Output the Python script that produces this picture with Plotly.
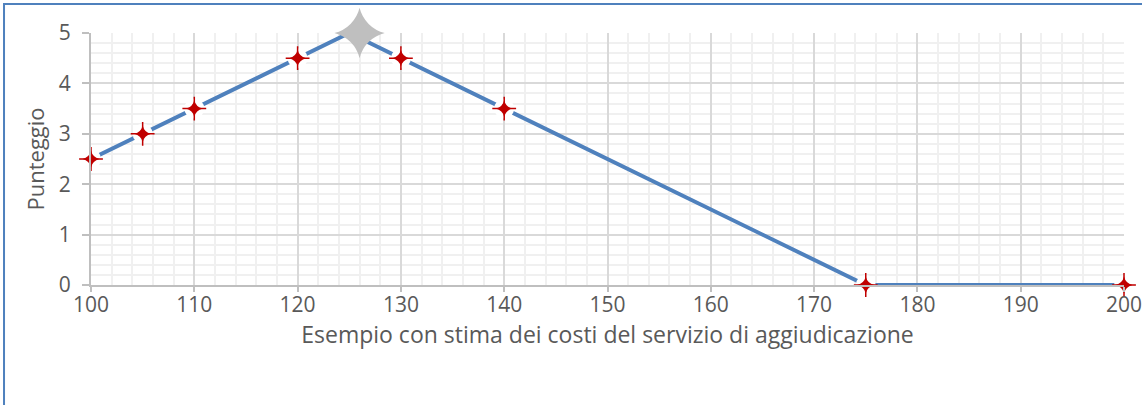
import plotly.graph_objects as go

# line of the scoring function
line_x = [100, 125, 175, 200]
line_y = [2.5, 5, 0, 0]

# example points (red stars)
point_x = [100, 105, 110, 120, 130, 140, 175, 200]
point_y = [2.5, 3, 3.5, 4.5, 4.5, 3.5, 0, 0]

# highlighted peak (grey star)
peak_x = [126]
peak_y = [5]

x_ticks = [100, 110, 120, 130, 140, 150, 160, 170, 180, 190, 200]
y_ticks = [0, 1, 2, 3, 4, 5]

FONT = "Open Sans"
TXT = "#595959"
RED = '#c00000'

fig = go.Figure()

fig.add_trace(go.Scatter(
    x=line_x, y=line_y, mode='lines',
    line=dict(color='#4f81bd', width=4),
    hoverinfo='skip'
))

# white halo round the points, cuts the line like in Excel
fig.add_trace(go.Scatter(
    x=point_x, y=point_y, mode='markers',
    marker=dict(symbol='circle', size=20, color='white'),
    hoverinfo='skip', cliponaxis=False
))

# thin four-point star = small star-diamond + thin cross
fig.add_trace(go.Scatter(
    x=point_x, y=point_y, mode='markers',
    marker=dict(symbol='cross-thin', size=17, color=RED,
                line=dict(width=1.5, color=RED)),
    hoverinfo='skip', cliponaxis=False
))
fig.add_trace(go.Scatter(
    x=point_x, y=point_y, mode='markers',
    marker=dict(symbol='star-diamond', size=12, color=RED,
                line=dict(width=0)),
    cliponaxis=False
))

fig.add_trace(go.Scatter(
    x=peak_x, y=peak_y, mode='markers',
    marker=dict(symbol='star-diamond', size=36, color='#bfbfbf',
                line=dict(width=0)),
    cliponaxis=False
))

# outer blue frame of the chart object
fig.add_shape(type='rect', xref='paper', yref='paper',
              x0=-0.0842, x1=1.2, y0=-1.0, y1=1.115,
              line=dict(color='#4f81bd', width=2), layer='below')

fig.update_layout(
    width=1142, height=405,
    margin=dict(l=91, r=18, t=33, b=120),
    paper_bgcolor='white',
    plot_bgcolor='white',
    showlegend=False,
    font=dict(family=FONT, color=TXT, size=21),
    xaxis=dict(
        range=[100, 200],
        tickvals=x_ticks,
        ticks='outside', ticklen=5, tickcolor='#bfbfbf', tickwidth=2,
        ticklabeloverflow='allow', ticklabelstandoff=-5,
        automargin=False,
        showline=True, linecolor='#bfbfbf', linewidth=2,
        showgrid=True, gridcolor='#d9d9d9', gridwidth=2,
        minor=dict(dtick=2, showgrid=True, gridcolor='#f0f0f0', gridwidth=2),
        tickfont=dict(size=21, color=TXT, family=FONT),
        title=dict(text='Esempio con stima dei costi del servizio di aggiudicazione',
                   font=dict(size=23, color=TXT, family=FONT), standoff=2),
        zeroline=False,
    ),
    yaxis=dict(
        range=[0, 5],
        tickvals=y_ticks,
        ticks='outside', ticklen=7, tickcolor='#bfbfbf', tickwidth=2,
        ticklabelstandoff=7,
        automargin=False,
        showline=True, linecolor='#bfbfbf', linewidth=2,
        showgrid=True, gridcolor='#d9d9d9', gridwidth=2,
        minor=dict(dtick=0.2, showgrid=True, gridcolor='#f0f0f0', gridwidth=2),
        tickfont=dict(size=21, color=TXT, family=FONT),
        title=dict(text='Punteggio', font=dict(size=22, color=TXT, family=FONT),
                   standoff=8),
        zeroline=False,
    ),
)

# drop the default body margin so the figure sits at the window corner
fig.write_html("out.html", config={'displayModeBar': False},
               post_script="document.body.style.margin='0';")
